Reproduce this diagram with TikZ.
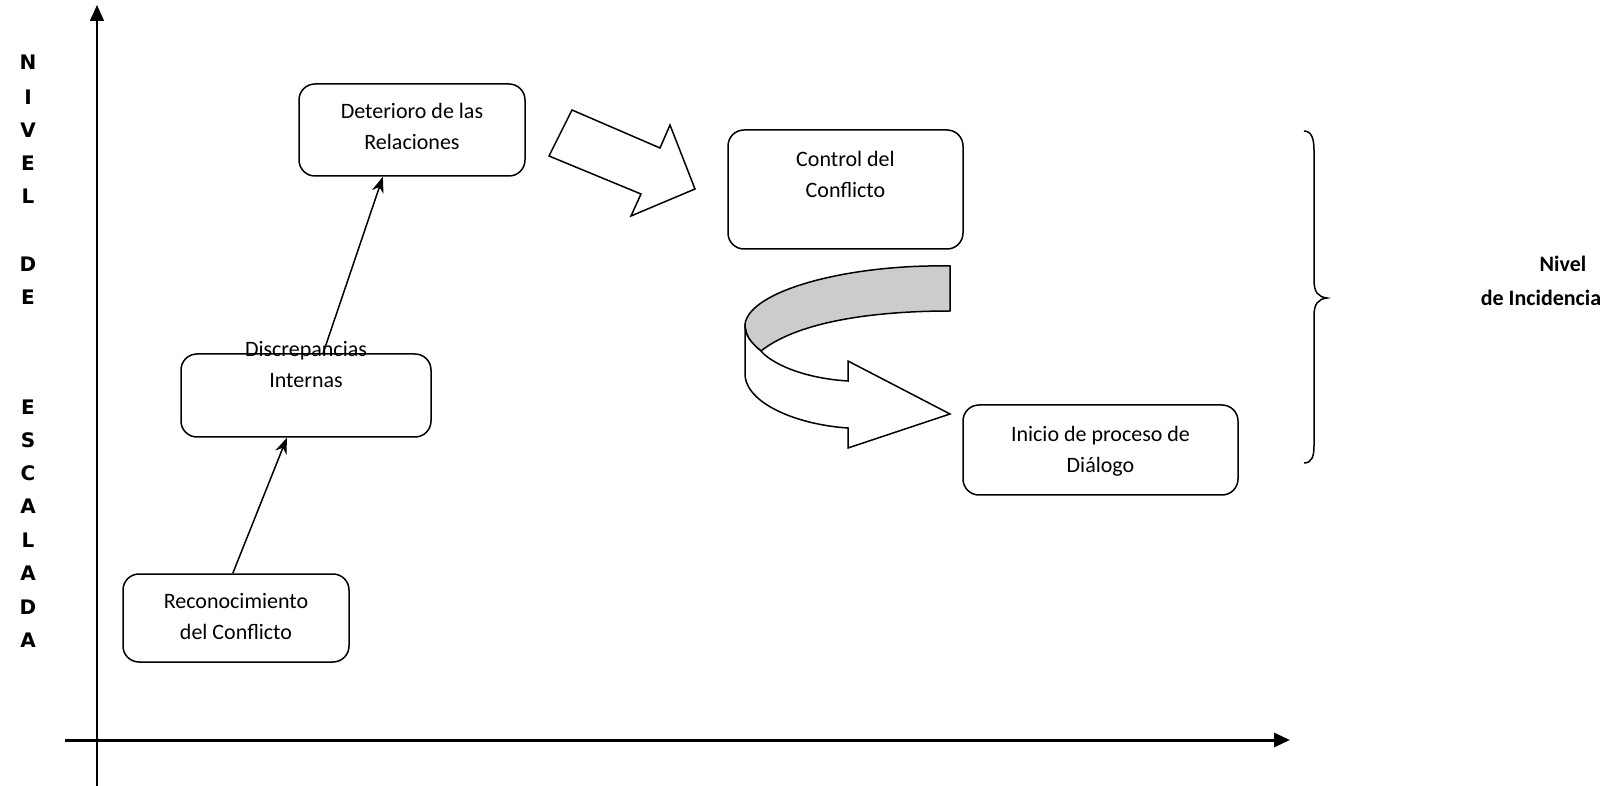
\documentclass[tikz,border=0pt]{standalone}
\usepackage{fontspec}
\setmainfont{Carlito}
\newfontfamily\widebold{DejaVu Sans}
\usepackage{tikz}
\usetikzlibrary{arrows,arrows.meta}
\usetikzlibrary{positioning}
\usetikzlibrary{calc}
\tikzset{
    stage/.style={draw=black, line width=0.75pt, rounded corners=8pt, fill=white},
    stagetext/.style={align=center, inner sep=0pt, font=\fontsize{11pt}{15.5pt}\selectfont},
    sidetext/.style={inner sep=0pt, font=\bfseries\fontsize{11pt}{13pt}\selectfont},
    axisletter/.style={inner sep=0pt, font=\widebold\bfseries\fontsize{10pt}{12pt}\selectfont},
    blockarrow/.style={draw=black, line width=0.75pt, fill=white, line join=miter},
    twistband/.style={draw=black, line width=0.75pt, fill=gray!40},
}

\begin{document}
\begin{tikzpicture}[x=0.5pt, y=-0.5pt,
    link/.style={line width=0.75pt, -{Stealth[length=8pt,width=6pt]}},
    axis/.style={line width=0.75pt, -{Triangle[length=8pt,width=7pt]}}]
	\useasboundingbox (0,0) rectangle (1603,786);
	% axes
	\coordinate (ybot) at (97,786);
	\coordinate (ytop) at (97,5);
	\coordinate (xleft) at (65,740);
	\coordinate (xright) at (1290,740);
	\draw[axis] (ybot)--(ytop);
	\draw[axis, line width=1.5pt] (xleft)--(xright);
	\foreach \ch/\yy [count=\i] in {N/62,I/97,V/130,E/163,L/196,D/264,E/297,E/407,S/440,C/473,A/506,L/540,A/573,D/607,A/640}
		\node[axisletter] (esc-\i) at (28,\yy) {\ch};
	% stages
	\node[stage, minimum width=113pt, minimum height=44pt] (rec) at (236,618) {};
	\node[stagetext, below=10pt of rec.north] (rec-t) {Reconocimiento\\del Conflicto};
	\node[stage, minimum width=125pt, minimum height=41.5pt] (dis) at (306,395.5) {};
	\node[stagetext, below=-6.25pt of dis.north] (dis-t) {Discrepancias\\Internas};
	\node[stage, minimum width=113pt, minimum height=46pt] (det) at (412,130) {};
	\node[stagetext, below=10pt of det.north] (det-t) {Deterioro de las\\Relaciones};
	\node[stage, minimum width=117.5pt, minimum height=59.5pt] (con) at (845.5,189.5) {};
	\node[stagetext, below=11pt of con.north] (con-t) {Control del\\Conflicto};
	\node[stage, minimum width=137.5pt, minimum height=45pt] (ini) at (1100.5,450) {};
	\node[stagetext, below=11pt of ini.north] (ini-t) {Inicio de proceso de\\Diálogo};
	\draw[link] ($(rec.north west)!0.486!(rec.north east)$)--($(dis.south west)!0.424!(dis.south east)$);
	\draw[link] ($(dis.north west)!0.568!(dis.north east)$)--($(det.south west)!0.372!(det.south east)$);
	% block arrow
	\draw[blockarrow] (572,110)--(660,148)--(670,125)--(695,189)--(631,216)--(641,194)--(549,156)--cycle;
	% curved arrow
	\draw[twistband] (950,266) .. controls (850,264) and (750,290) .. (745,324)
		.. controls (745,335) and (750,342) .. (761,351)
		.. controls (800,320) and (880,311) .. (950,311) -- cycle;
	\draw[blockarrow] (745,324)--(745,376) .. controls (748,405) and (800,425) .. (848,428)
		--(848,448)--(950,414)--(848,361)--(848,381)
		.. controls (800,378) and (770,362) .. (761,351)
		.. controls (750,342) and (745,335) .. (745,324)--cycle;
	% brace
	\draw[line width=0.75pt] (1304,131) .. controls (1312,131) and (1314,140) .. (1314,150)--(1314,280)
		.. controls (1314,292) and (1318,297) .. (1327,298)
		.. controls (1318,299) and (1314,304) .. (1314,316)--(1314,446)
		.. controls (1314,456) and (1312,463) .. (1304,463);
	\node[sidetext] (lvl-1) at (1563,264) {Nivel};
	\node[sidetext] (lvl-2) at (1541,298) {de Incidencia};
\end{tikzpicture}
\end{document}
